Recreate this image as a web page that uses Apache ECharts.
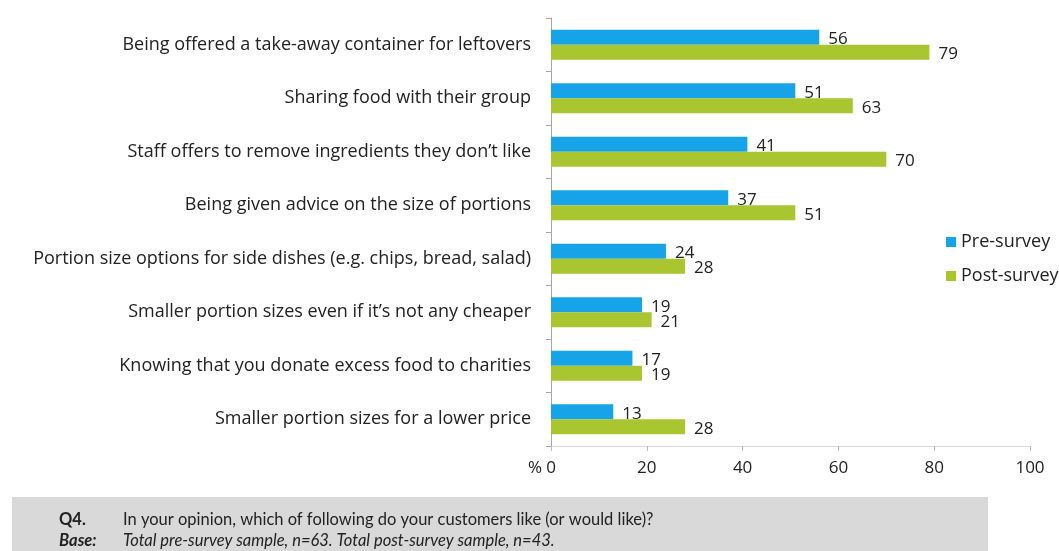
<!DOCTYPE html>
<html>
<head>
<meta charset="utf-8">
<style>
  html, body { margin: 0; padding: 0; background: #fff; }
  #chart { width: 1059px; height: 551px; }
</style>
<script src="https://cdn.jsdelivr.net/npm/echarts@6/dist/echarts.min.js"></script>
</head>
<body>
<div id="chart"></div>
<script>
// Restaurant customer preferences, pre- vs post-survey (%)
const categories = [
  'Being offered a take-away container for leftovers',
  'Sharing food with their group',
  'Staff offers to remove ingredients they don\u2019t like',
  'Being given advice on the size of portions',
  'Portion size options for side dishes (e.g. chips, bread, salad)',
  'Smaller portion sizes even if it\u2019s not any cheaper',
  'Knowing that you donate excess food to charities',
  'Smaller portion sizes for a lower price'
];
const preSurvey = [56, 51, 41, 37, 24, 19, 17, 13];
const postSurvey = [79, 63, 70, 51, 28, 21, 19, 28];
const xTicks = { min: 0, max: 100, interval: 20 };

const FONT = '"Open Sans", sans-serif';
const NOTE_FONT = 'Lato, sans-serif';
const TEXT = '#222';

const chart = echarts.init(document.getElementById('chart'));

const valueLabel = {
  show: true,
  position: 'right',
  distance: 9,
  offset: [0, 2],
  fontFamily: FONT,
  fontSize: 17,
  color: TEXT
};

chart.setOption({
  animation: false,
  textStyle: { fontFamily: FONT },
  grid: { left: 551, right: 29, top: 18, bottom: 105, containLabel: false },
  legend: {
    orient: 'vertical',
    left: 941,
    top: 228,
    icon: 'rect',
    itemWidth: 10,
    itemHeight: 10,
    itemGap: 16,
    textStyle: { fontFamily: FONT, fontSize: 18, color: TEXT },
    data: ['Pre-survey', 'Post-survey']
  },
  xAxis: {
    type: 'value',
    min: xTicks.min,
    max: xTicks.max,
    interval: xTicks.interval,
    axisLine: { show: true, lineStyle: { color: '#d9d9d9' } },
    axisTick: { show: true, length: 5, lineStyle: { color: '#bbb' } },
    splitLine: { show: false },
    axisLabel: { fontFamily: FONT, fontSize: 17, color: TEXT, margin: 14 }
  },
  yAxis: {
    type: 'category',
    inverse: true,
    data: categories,
    axisLine: { show: true, lineStyle: { color: '#a6a6a6' } },
    axisTick: { show: true, length: 5, lineStyle: { color: '#a6a6a6' } },
    axisLabel: { fontFamily: FONT, fontSize: 18, color: TEXT, margin: 20, padding: [4, 0, 0, 0] }
  },
  graphic: [
    {
      type: 'text',
      left: 528,
      top: 460,
      style: { text: '%', fontFamily: FONT, fontSize: 17, fill: TEXT }
    },
    {
      type: 'rect',
      left: 12,
      top: 497,
      shape: { width: 976, height: 54 },
      style: { fill: '#d9d9d9' },
      z: -1
    },
    {
      type: 'text',
      left: 59,
      top: 511,
      style: { text: 'Q4.', fontFamily: NOTE_FONT, fontSize: 16.5, fontWeight: 'bold', fill: TEXT }
    },
    {
      type: 'text',
      left: 123,
      top: 511,
      style: { text: 'In your opinion, which of following do your customers like (or would like)?', fontFamily: NOTE_FONT, fontSize: 16.5, fill: TEXT }
    },
    {
      type: 'text',
      left: 59,
      top: 532,
      style: { text: 'Base:', fontFamily: NOTE_FONT, fontSize: 16.5, fontWeight: 'bold', fontStyle: 'italic', fill: TEXT }
    },
    {
      type: 'text',
      left: 123,
      top: 532,
      style: { text: 'Total pre-survey sample, n=63. Total post-survey sample, n=43.', fontFamily: NOTE_FONT, fontSize: 16.5, fontStyle: 'italic', fill: TEXT }
    }
  ],
  series: [
    {
      name: 'Pre-survey',
      type: 'bar',
      data: preSurvey,
      barWidth: 15,
      barGap: '0%',
      itemStyle: { color: '#17a3e8' },
      label: valueLabel
    },
    {
      name: 'Post-survey',
      type: 'bar',
      data: postSurvey,
      barWidth: 15,
      barGap: '0%',
      itemStyle: { color: '#a9c530' },
      label: valueLabel
    }
  ]
});
</script>
</body>
</html>
